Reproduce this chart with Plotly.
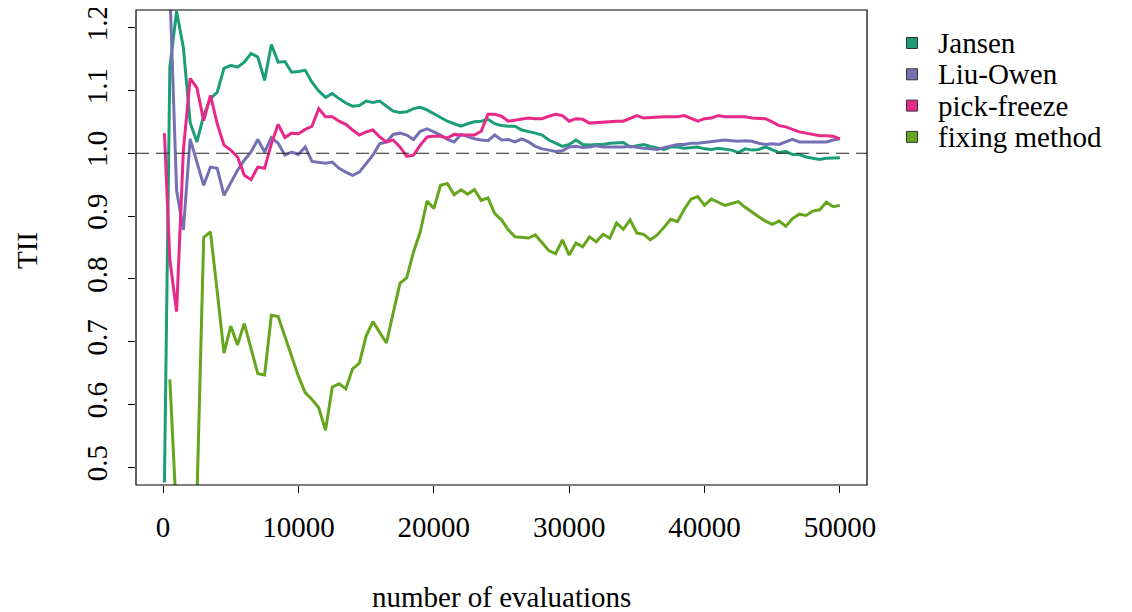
import plotly.graph_objects as go

# evaluation grid (100, then every 500 up to 50000)
N_EVAL = [100] + list(range(500, 50001, 500))

JANSEN = [
    0.476, 1.137, 1.226, 1.168, 1.049, 1.018, 1.060, 1.087, 1.097, 1.135,
    1.140, 1.137, 1.145, 1.159, 1.153, 1.116, 1.173, 1.145, 1.146, 1.129,
    1.130, 1.132, 1.113, 1.099, 1.089, 1.095, 1.087, 1.080, 1.075, 1.076,
    1.083, 1.081, 1.083, 1.075, 1.067, 1.065, 1.066, 1.071, 1.073, 1.069,
    1.063, 1.056, 1.051, 1.047, 1.043, 1.047, 1.050, 1.051, 1.054, 1.047,
    1.044, 1.043, 1.043, 1.037, 1.035, 1.032, 1.029, 1.021, 1.016, 1.011,
    1.014, 1.021, 1.014, 1.013, 1.014, 1.014, 1.016, 1.017, 1.017, 1.010,
    1.012, 1.014, 1.011, 1.008, 1.006, 1.010, 1.010, 1.008, 1.009, 1.010,
    1.007, 1.006, 1.008, 1.006, 1.005, 1.001, 1.007, 1.005, 1.006, 1.010,
    1.005, 1.001, 1.003, 0.998, 0.998, 0.994, 0.992, 0.990, 0.992, 0.992,
    0.993,
]

LIU_OWEN = [
    1.600, 1.260, 0.941, 0.878, 1.023, 0.984, 0.949, 0.978, 0.976, 0.933,
    0.954, 0.973, 0.989, 1.002, 1.022, 1.002, 1.025, 1.016, 0.997, 1.002,
    0.998, 1.010, 0.987, 0.986, 0.984, 0.986, 0.976, 0.970, 0.965, 0.970,
    0.984, 0.997, 1.015, 1.018, 1.030, 1.032, 1.029, 1.022, 1.035, 1.039,
    1.034, 1.029, 1.022, 1.018, 1.030, 1.026, 1.023, 1.021, 1.020, 1.029,
    1.021, 1.022, 1.018, 1.023, 1.018, 1.011, 1.007, 1.005, 1.003, 1.004,
    1.010, 1.011, 1.009, 1.010, 1.012, 1.010, 1.010, 1.009, 1.010, 1.011,
    1.009, 1.008, 1.007, 1.006, 1.009, 1.012, 1.014, 1.014, 1.016, 1.016,
    1.017, 1.019, 1.019, 1.021, 1.020, 1.019, 1.020, 1.019, 1.016, 1.014,
    1.015, 1.014, 1.018, 1.022, 1.018, 1.018, 1.019, 1.019, 1.018, 1.021,
    1.023,
]

PICK_FREEZE = [
    1.032, 0.830, 0.748, 1.005, 1.119, 1.104, 1.052, 1.092, 1.047, 1.013,
    1.005, 0.994, 0.965, 0.958, 0.978, 0.976, 1.015, 1.046, 1.025, 1.032,
    1.031, 1.038, 1.043, 1.071, 1.058, 1.058, 1.051, 1.046, 1.037, 1.029,
    1.034, 1.037, 1.026, 1.018, 1.021, 1.010, 0.995, 0.997, 1.013, 1.026,
    1.027, 1.027, 1.024, 1.030, 1.029, 1.029, 1.029, 1.035, 1.062, 1.062,
    1.059, 1.051, 1.053, 1.055, 1.056, 1.055, 1.055, 1.059, 1.062, 1.060,
    1.051, 1.055, 1.054, 1.048, 1.049, 1.049, 1.050, 1.051, 1.051, 1.056,
    1.060, 1.056, 1.057, 1.058, 1.058, 1.058, 1.058, 1.060, 1.056, 1.051,
    1.055, 1.056, 1.060, 1.058, 1.058, 1.058, 1.058, 1.056, 1.055, 1.055,
    1.050, 1.044, 1.042, 1.038, 1.034, 1.032, 1.030, 1.028, 1.028, 1.027,
    1.023,
]

FIXING = [
    None, 0.640, 0.370, 0.200, 0.250, 0.450, 0.866, 0.875, 0.780, 0.682,
    0.725, 0.695, 0.729, 0.687, 0.649, 0.647, 0.742, 0.740, 0.708, 0.674,
    0.645, 0.619, 0.608, 0.595, 0.559, 0.628, 0.633, 0.625, 0.657, 0.666,
    0.709, 0.732, 0.715, 0.698, 0.746, 0.793, 0.802, 0.843, 0.875, 0.924,
    0.912, 0.949, 0.952, 0.934, 0.942, 0.935, 0.942, 0.925, 0.929, 0.904,
    0.894, 0.878, 0.867, 0.866, 0.865, 0.870, 0.858, 0.845, 0.840, 0.862,
    0.838, 0.857, 0.851, 0.867, 0.859, 0.871, 0.865, 0.889, 0.879, 0.894,
    0.873, 0.871, 0.862, 0.870, 0.882, 0.895, 0.891, 0.911, 0.927, 0.931,
    0.917, 0.927, 0.922, 0.917, 0.920, 0.923, 0.914, 0.906, 0.899, 0.892,
    0.887, 0.892, 0.884, 0.896, 0.903, 0.901, 0.908, 0.910, 0.922, 0.915,
    0.917,
]

SERIES = {
    "Jansen": (JANSEN, "#1B9E77"),
    "Liu-Owen": (LIU_OWEN, "#7570B3"),
    "pick-freeze": (PICK_FREEZE, "#E7298A"),
    "fixing method": (FIXING, "#66A61E"),
}

X_TICKS = [0, 10000, 20000, 30000, 40000, 50000]
Y_TICKS = [0.5, 0.6, 0.7, 0.8, 0.9, 1.0, 1.1, 1.2]

FONT = "Liberation Serif"

# the page body has an 8px margin, so the figure is drawn 8px smaller and
# all page-pixel positions below are shifted by that offset
OFF = 8
W, H = 1132 - OFF, 612 - OFF
ML, MT = 136 - OFF, 10 - OFF
PW, PH = 731, 475
MR, MB = W - ML - PW, H - MT - PH


def px_to_paper(px, py):
    """page pixel -> paper coordinates"""
    return (px - OFF - ML) / PW, (MT + PH - (py - OFF)) / PH


fig = go.Figure()

for name, (vals, col) in SERIES.items():
    fig.add_trace(go.Scatter(
        x=N_EVAL, y=vals, mode="lines", name=name,
        line=dict(color=col, width=3),
        showlegend=False, connectgaps=False,
    ))

# reference line at 1
fig.add_hline(y=1.0, line=dict(color="#222222", width=1, dash="13px,7px"))

# box around plot region
fig.add_shape(type="rect", xref="paper", yref="paper", x0=0, x1=1, y0=0, y1=1,
              line=dict(color="black", width=1.2))

# legend, R style: filled squares + labels
LEG_X, LEG_Y0, LEG_DY, SQ = 912, 43, 31.3, 11
for i, (name, (_, col)) in enumerate(SERIES.items()):
    cy = LEG_Y0 + i * LEG_DY
    x0, y0 = px_to_paper(LEG_X - SQ / 2, cy + SQ / 2)
    x1, y1 = px_to_paper(LEG_X + SQ / 2, cy - SQ / 2)
    fig.add_shape(type="rect", xref="paper", yref="paper",
                  x0=x0, x1=x1, y0=y0, y1=y1,
                  fillcolor=col, line=dict(color="#333333", width=1))
    tx, ty = px_to_paper(LEG_X + 24, cy)
    fig.add_annotation(text=name, xref="paper", yref="paper", x=tx, y=ty,
                       xanchor="left", yanchor="middle", showarrow=False,
                       font=dict(family=FONT, size=29, color="black"))

tx, ty = px_to_paper(136 + PW / 2, 597)
fig.add_annotation(text="number of evaluations", xref="paper", yref="paper",
                   x=tx, y=ty, xanchor="center", yanchor="middle", showarrow=False,
                   font=dict(family=FONT, size=29, color="black"))
tx, ty = px_to_paper(27, 250)
fig.add_annotation(text="TII", xref="paper", yref="paper",
                   x=tx, y=ty, xanchor="center", yanchor="middle",
                   textangle=-90, showarrow=False,
                   font=dict(family=FONT, size=29, color="black"))

fig.update_xaxes(
    range=[-2000, 52000], tickvals=X_TICKS, ticktext=[str(v) for v in X_TICKS],
    ticks="outside", ticklen=7, tickwidth=1, tickcolor="black",
    showgrid=False, zeroline=False, showline=False,
    ticklabelstandoff=9, ticklabeloverflow="allow",
)
fig.update_yaxes(
    range=[0.472, 1.228], tickvals=Y_TICKS, ticktext=[f"{v:.1f}" for v in Y_TICKS],
    tickangle=-90,
    ticks="outside", ticklen=7, tickwidth=1, tickcolor="black",
    showgrid=False, zeroline=False, showline=False,
    ticklabelstandoff=9, ticklabeloverflow="allow",
)

fig.update_layout(
    width=W, height=H,
    margin=dict(l=ML, r=MR, t=MT, b=MB, autoexpand=False),
    plot_bgcolor="white", paper_bgcolor="white",
    font=dict(family=FONT, size=29, color="black"),
    showlegend=False,
)

fig.write_html("out.html")
